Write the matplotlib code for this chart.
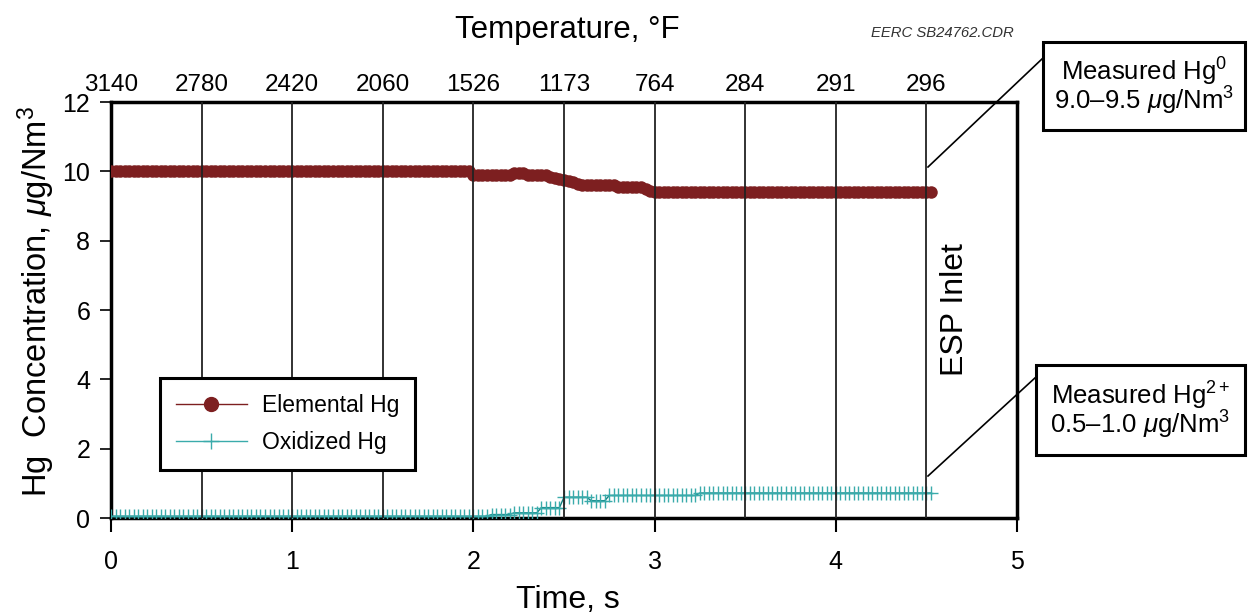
import numpy as np
import matplotlib
matplotlib.use("Agg")
import matplotlib.pyplot as plt
from matplotlib.lines import Line2D
from matplotlib.patches import Rectangle

plt.rcParams['font.family'] = ['Liberation Sans', 'DejaVu Sans']
plt.rcParams['mathtext.fontset'] = 'custom'
plt.rcParams['mathtext.rm'] = 'Liberation Sans'
plt.rcParams['mathtext.it'] = 'Liberation Sans:italic'

# ---- data ----
time_step = 0.025  # s, sampling interval of the series
# Elemental Hg: run-length encoded levels (ug/Nm3) and number of samples
elem_levels = [10.0, 9.9, 9.95, 9.9, 9.85, 9.8, 9.78, 9.75, 9.72, 9.68, 9.63,
               9.6, 9.55, 9.48, 9.42, 9.4]
elem_counts = [80, 9, 3, 5, 1, 1, 1, 1, 1, 1, 1, 8, 6, 1, 1, 62]
# Oxidized Hg
oxi_levels = [0.05, 0.1, 0.15, 0.3, 0.6, 0.5, 0.65, 0.72]
oxi_counts = [84, 5, 6, 5, 6, 4, 20, 52]

elemental = np.repeat(elem_levels, elem_counts)
oxidized = np.repeat(oxi_levels, oxi_counts)
time = np.arange(len(elemental)) * time_step

time_ticks = [0, 1, 2, 3, 4, 5]
temp_positions = [0, 0.5, 1.0, 1.5, 2.0, 2.5, 3.0, 3.5, 4.0, 4.5]
temp_labels = ['3140', '2780', '2420', '2060', '1526', '1173', '764', '284', '291', '296']
y_ticks = [0, 2, 4, 6, 8, 10, 12]

W, H = 1248, 616
fig = plt.figure(figsize=(W / 100, H / 100), dpi=100)
ax = fig.add_axes([111 / W, 1 - 518 / H, 906 / W, 416 / H])

red = '#7d1f20'
teal = '#3aabab'

ax.plot(time, oxidized, color='#0f7f7f', lw=1.0, marker='+', ms=10, mew=1.0,
        mec=teal, zorder=3, label='Oxidized Hg')
ax.plot(time, elemental, color=red, lw=1.0, marker='o', ms=9, mew=0,
        mfc=red, zorder=3, label='Elemental Hg')

for t in temp_positions[1:]:
    ax.axvline(t, color='#222222', lw=1.3, zorder=4)

ax.set_xlim(0, 5)
ax.set_ylim(0, 12)
ax.set_xticks(time_ticks)
ax.set_yticks(y_ticks)
ax.tick_params(axis='x', direction='out', length=10, width=1.5, pad=13, labelsize=18)
ax.tick_params(axis='y', direction='out', length=8, width=1.2, pad=7, labelsize=18)
for s in ax.spines.values():
    s.set_linewidth(2.5)
    s.set_color('black')

ax2 = ax.twiny()
ax2.set_xlim(0, 5)
ax2.set_xticks(temp_positions)
ax2.set_xticklabels(temp_labels)
ax2.tick_params(axis='x', length=0, pad=4, labelsize=17.5)
for s in ax2.spines.values():
    s.set_visible(False)

# axis labels
fig.text(568 / W, 1 - 600 / H, 'Time, s', ha='center', va='center', fontsize=23)
fig.text(567 / W, 1 - 30 / H, 'Temperature, °F', ha='center', va='center', fontsize=22.5)
fig.text(36 / W, 1 - 302 / H, 'Hg  Concentration, $\\mu$g/Nm$^3$', ha='center', va='center',
         rotation=90, fontsize=23.5)
fig.text(942 / W, 1 - 33 / H, 'EERC SB24762.CDR', ha='center', va='center',
         fontsize=10.7, style='italic', color='#333333')

ax.text(4.66, 6.0, 'ESP Inlet', rotation=90, ha='center', va='center', fontsize=23)

# legend
handles = [Line2D([], [], color=red, lw=1, marker='o', ms=10, mfc=red, mec=red),
           Line2D([], [], color=teal, lw=1, marker='+', ms=12, mew=1, mec=teal)]
leg = ax.legend(handles, ['Elemental Hg', 'Oxidized Hg'], loc='lower left',
                bbox_to_anchor=(0.054, 0.115), fontsize=16.5, frameon=True, fancybox=False,
                handlelength=3.1, handletextpad=0.65, borderpad=0.7, labelspacing=0.6,
                borderaxespad=0, framealpha=1)
leg.get_frame().set_edgecolor('black')
leg.get_frame().set_linewidth(2.2)

# annotation boxes
def box(x0, y0, x1, y1, lines):
    fig.patches.append(Rectangle((x0 / W, 1 - y1 / H), (x1 - x0) / W, (y1 - y0) / H,
                                 transform=fig.transFigure, fill=False, lw=2.2, ec='black'))
    cx = (x0 + x1) / 2
    cy = (y0 + y1) / 2
    fig.text(cx / W, 1 - (cy - 14) / H, lines[0], ha='center', va='center', fontsize=18.5)
    fig.text(cx / W, 1 - (cy + 15) / H, lines[1], ha='center', va='center', fontsize=18.5)

def leader(xa, ya, xb, yb):
    fig.add_artist(Line2D([xa / W, xb / W], [1 - ya / H, 1 - yb / H],
                          transform=fig.transFigure, color='black', lw=1.2))

box(1043, 42, 1245, 130, ['Measured Hg$^0$', '9.0–9.5 $\\mu$g/Nm$^3$'])
box(1036, 365, 1245, 455, ['Measured Hg$^{2+}$', '0.5–1.0 $\\mu$g/Nm$^3$'])
leader(1043, 58, 928, 167)
leader(1036, 377, 928, 476)

fig.savefig('out.png', dpi=100)
